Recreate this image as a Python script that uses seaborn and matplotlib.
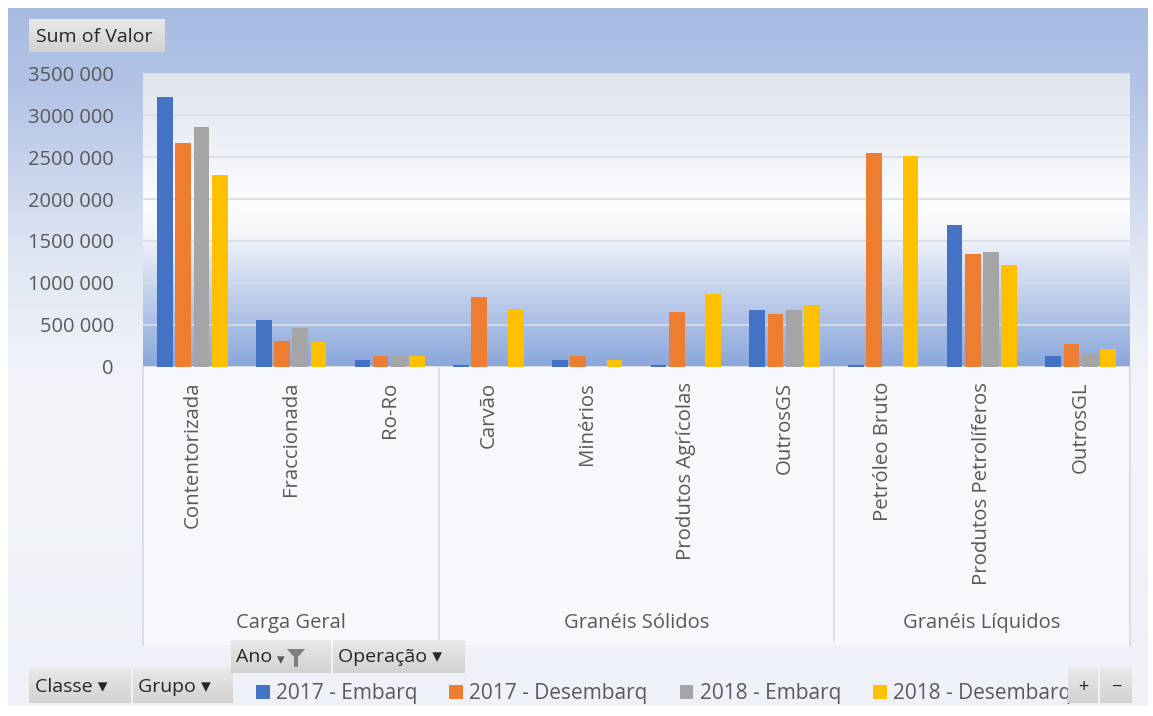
import numpy as np
import pandas as pd
import matplotlib
matplotlib.use('Agg')
import matplotlib.pyplot as plt
import seaborn as sns
from matplotlib.colors import to_rgb
from matplotlib.patches import Rectangle, Polygon
import matplotlib.transforms as mtransforms

# ---------------- data ----------------
categories = ['Contentorizada', 'Fraccionada', 'Ro-Ro', 'Carvão', 'Minérios',
              'Produtos Agrícolas', 'OutrosGS', 'Petróleo Bruto',
              'Produtos Petrolíferos', 'OutrosGL']
groups = ['Carga Geral', 'Granéis Sólidos', 'Granéis Líquidos']
group_sizes = [3, 4, 3]
series = ['2017 - Embarq', '2017 - Desembarq', '2018 - Embarq', '2018 - Desembarq']
emb_2017 = [3224000, 551000, 80000, 20000, 72000, 20000, 670000, 20000, 1684000, 120000]
des_2017 = [2674000, 299000, 128000, 826000, 120000, 650000, 630000, 2546000, 1349000, 271000]
emb_2018 = [2865000, 459000, 125000, 0, 0, 0, 670000, 0, 1369000, 148000]
des_2018 = [2287000, 290000, 125000, 690000, 72000, 870000, 738000, 2514000, 1209000, 211000]
yticks = [0, 500000, 1000000, 1500000, 2000000, 2500000, 3000000, 3500000]
ytick_labels = ['0', '500 000', '1000 000', '1500 000', '2000 000', '2500 000',
                '3000 000', '3500 000']
palette = ['#4472C4', '#ED7D31', '#A5A5A5', '#FFC000']

df = pd.DataFrame({
    'Grupo': categories * 4,
    'Serie': sum([[s] * len(categories) for s in series], []),
    'Valor': emb_2017 + des_2017 + emb_2018 + des_2018,
})

sns.set_theme(style='white')
plt.rcParams['font.family'] = ['Open Sans', 'DejaVu Sans']

W, H = 1153, 716
fig = plt.figure(figsize=(W / 100, H / 100), dpi=100)
fig.patch.set_facecolor('white')


def grad_img(stops, n=300):
    pos = np.array([p for p, _ in stops])
    cols = np.array([to_rgb(c) for _, c in stops])
    t = np.linspace(0, 1, n)
    img = np.stack([np.interp(t, pos, cols[:, k]) for k in range(3)], axis=-1)
    return img[:, None, :]


# ---------- background (pixel coordinates) ----------
bg = fig.add_axes([0, 0, 1, 1], zorder=-5)
bg.set_xlim(0, W)
bg.set_ylim(H, 0)
bg.axis('off')
bg.imshow(grad_img([(0, '#a7bbe2'), (0.12, '#b3c4e6'), (0.35, '#dfe6f3'),
                    (0.55, '#f3f5fa'), (1, '#eef1f7')]),
          extent=(8, 1148, 706, 8), aspect='auto', interpolation='bilinear')
bg.add_patch(Rectangle((143, 366), 1130 - 143, 645 - 366, facecolor='#f6f8fc',
                       edgecolor='none'))

# ---------- main axes ----------
left, right, top, bottom = 143, 1130, 73.4, 366.5
ax = fig.add_axes([left / W, 1 - bottom / H, (right - left) / W, (bottom - top) / H],
                  zorder=1)
ax.set_facecolor('none')

sns.barplot(data=df, x='Grupo', y='Valor', hue='Serie', order=categories,
            hue_order=series, palette=palette, saturation=1, width=0.74,
            gap=0.14, errorbar=None, linewidth=0, edgecolor='none', ax=ax)

ax.set_xlim(-0.5, len(categories) - 0.5)
ax.set_ylim(0, 3500000)
ax.imshow(grad_img([(0, '#dfe4ef'), (0.2, '#eaeef6'), (0.45, '#fcfdfe'),
                    (0.55, '#f4f6fb'), (0.75, '#c3d1ec'), (1, '#8ba7da')]),
          extent=(-0.5, len(categories) - 0.5, 0, 3500000), aspect='auto',
          zorder=-2, interpolation='bilinear')
ax.set_yticks(yticks)
ax.set_yticklabels(ytick_labels, fontsize=14.5, color='#595959')
ax.yaxis.grid(True, color='#d9dde5', linewidth=1.3)
ax.set_axisbelow(True)
ax.set_xticks(range(len(categories)))
ax.set_xticklabels(categories, rotation=90, fontsize=14.7, color='#595959',
                   va='top', ha='center')
ax.tick_params(axis='y', length=0, pad=21)
ax.tick_params(axis='x', length=0, pad=11)
ax.set_xlabel('')
ax.set_ylabel('')
for s in ax.spines.values():
    s.set_visible(False)

# group separators and labels
trans = mtransforms.blended_transform_factory(ax.transData, ax.transAxes)
bounds = np.cumsum([0] + group_sizes) - 0.5
sep_color = '#d3d7df'
for i, b in enumerate(bounds):
    y_end = -0.95 if i in (0, len(bounds) - 1) else -0.935
    ax.plot([b, b], [0, y_end], transform=trans, color=sep_color, lw=1.1,
            clip_on=False)
for g, a, b in zip(groups, bounds[:-1], bounds[1:]):
    ax.text((a + b) / 2, -0.874, g, transform=trans, ha='center', va='center',
            fontsize=14.5, color='#595959')

# legend
handles, labels = ax.get_legend_handles_labels()
ax.legend_.remove()
fig.legend(handles, labels, loc='center left',
           bbox_to_anchor=(256 / W, 1 - 694 / H), ncol=4, frameon=False,
           fontsize=15, handlelength=0.65, handleheight=0.65, handletextpad=0.3,
           columnspacing=1.55, labelcolor='#595959', borderaxespad=0,
           borderpad=0)

# ---------- pivot buttons (overlay) ----------
ov = fig.add_axes([0, 0, 1, 1], zorder=10)
ov.set_xlim(0, W)
ov.set_ylim(H, 0)
ov.axis('off')
ov.patch.set_alpha(0)

btn_grad = grad_img([(0, '#e9e9e9'), (1, '#d2d2d2')], n=50)


def button(x0, y0, x1, y1, text=None, fs=14, ha='left', tx=None):
    ov.imshow(btn_grad, extent=(x0, x1, y1, y0), aspect='auto', zorder=1)
    if text is not None:
        ov.text(tx if tx is not None else x0 + 6, (y0 + y1) / 2 + 1, text,
                ha=ha, va='center', fontsize=fs, color='#262626', zorder=2)


button(29, 19, 165, 52, 'Sum of Valor', tx=36)
button(29, 668, 131, 703, 'Classe \u25BE', tx=35)
button(133, 668, 233, 703, 'Grupo \u25BE', tx=138)
button(231, 640, 331, 673, 'Ano', tx=236)
ov.text(281, 661, '\u25BE', fontsize=11, color='#555555', ha='center',
        va='center', zorder=2)
ov.add_patch(Polygon([[287, 649], [305, 649], [298, 657], [298, 667], [294, 667],
                      [294, 657]], closed=True, facecolor='#7f7f7f',
                     edgecolor='none', zorder=2))
button(333, 640, 465, 673, 'Operação \u25BE', tx=338)
button(1068, 668, 1098, 703, '+', ha='center', tx=1083, fs=13)
button(1100, 668, 1132, 703, '\u2212', ha='center', tx=1116, fs=13)

bg.set_xlim(0, W)
bg.set_ylim(H, 0)
ov.set_xlim(0, W)
ov.set_ylim(H, 0)

fig.savefig('out.png', dpi=100)
